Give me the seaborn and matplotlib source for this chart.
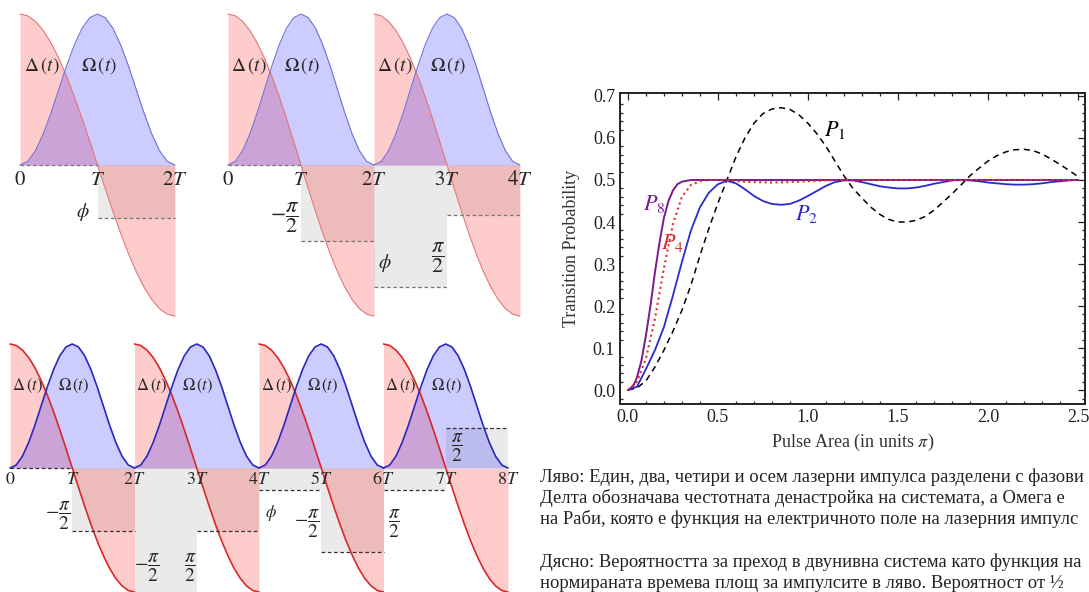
import numpy as np
import matplotlib
matplotlib.use("Agg")
import matplotlib.pyplot as plt
import seaborn as sns
from matplotlib.ticker import MultipleLocator, FormatStrFormatter

# one pulse, time in units of T (0 .. 2T)
pulse_t = [0.0, 0.1, 0.2, 0.3, 0.4, 0.5, 0.6, 0.7, 0.8, 0.9, 1.0,
           1.1, 1.2, 1.3, 1.4, 1.5, 1.6, 1.7, 1.8, 1.9, 2.0]
delta_shape = [1.000, 0.988, 0.951, 0.891, 0.809, 0.707, 0.588, 0.454, 0.309, 0.156, 0.0,
               -0.156, -0.309, -0.454, -0.588, -0.707, -0.809, -0.891, -0.951, -0.988, -1.000]
omega_shape = [0.0, 0.024, 0.095, 0.206, 0.345, 0.5, 0.655, 0.794, 0.905, 0.976, 1.0,
               0.976, 0.905, 0.794, 0.655, 0.5, 0.345, 0.206, 0.095, 0.024, 0.0]

# phase steps (start of each segment of width T, level)
p1_phase_t = [0, 1]
p1_phase_lvl = [0.0, -0.35]
p2_phase_t = [0, 1, 2, 3]
p2_phase_lvl = [0.0, -0.50, -0.81, -0.33]
p3_phase_t = [0, 1, 2, 3, 4, 5, 6, 7]
p3_phase_lvl = [0.0, -0.51, -1.2, -0.51, -0.18, -0.68, -0.18, 0.32]

p1_ticks = ["0", "T", "2T"]
p2_ticks = ["0", "T", "2T", "3T", "4T"]
p3_ticks = ["0", "T", "2T", "3T", "4T", "5T", "6T", "7T", "8T"]

# transition probability curves
p1_x = [0.00, 0.05, 0.10, 0.15, 0.20, 0.25, 0.30, 0.35, 0.40, 0.45, 0.50, 0.55, 0.60, 0.65,
        0.70, 0.75, 0.80, 0.85, 0.90, 0.95, 1.00, 1.05, 1.10, 1.15, 1.20, 1.25, 1.30, 1.35,
        1.40, 1.45, 1.50, 1.55, 1.60, 1.65, 1.70, 1.75, 1.80, 1.85, 1.90, 1.95, 2.00, 2.05,
        2.10, 2.15, 2.20, 2.25, 2.30, 2.35, 2.40, 2.45, 2.50]
p1_y = [0.000, 0.005, 0.022, 0.055, 0.095, 0.140, 0.190, 0.250, 0.320, 0.385, 0.445, 0.500,
        0.555, 0.600, 0.635, 0.658, 0.669, 0.672, 0.668, 0.655, 0.635, 0.610, 0.580, 0.545,
        0.510, 0.480, 0.457, 0.435, 0.418, 0.406, 0.400, 0.400, 0.404, 0.413, 0.428, 0.447,
        0.467, 0.488, 0.510, 0.528, 0.545, 0.558, 0.567, 0.572, 0.573, 0.570, 0.562, 0.550,
        0.537, 0.523, 0.508]
p2_x = p1_x
p2_y = [0.000, 0.008, 0.050, 0.095, 0.150, 0.225, 0.305, 0.380, 0.435, 0.470, 0.490, 0.498,
        0.492, 0.478, 0.462, 0.450, 0.443, 0.441, 0.443, 0.451, 0.462, 0.474, 0.486, 0.495,
        0.499, 0.499, 0.495, 0.490, 0.485, 0.482, 0.480, 0.480, 0.482, 0.486, 0.491, 0.495,
        0.499, 0.500, 0.499, 0.497, 0.494, 0.492, 0.490, 0.489, 0.489, 0.490, 0.492, 0.495,
        0.497, 0.499, 0.500]
p4_x = [0.00, 0.05, 0.10, 0.15, 0.20, 0.25, 0.30, 0.35, 0.40, 0.45, 0.50, 0.55, 0.60, 0.70,
        0.80, 0.90, 1.00, 1.10, 1.20, 2.50]
p4_y = [0.000, 0.020, 0.075, 0.170, 0.290, 0.395, 0.460, 0.488, 0.497, 0.500, 0.500, 0.499,
        0.497, 0.495, 0.494, 0.495, 0.497, 0.499, 0.500, 0.500]
p8_x = [0.000, 0.030, 0.050, 0.075, 0.100, 0.125, 0.150, 0.175, 0.200, 0.225, 0.250, 0.275,
        0.300, 0.350, 2.500]
p8_y = [0.000, 0.010, 0.030, 0.070, 0.130, 0.200, 0.280, 0.350, 0.410, 0.450, 0.475, 0.490,
        0.496, 0.500, 0.500]

# caption, as far as it is visible in the picture
caption = [
    "Ляво: Един, два, четири и осем лазерни импулса разделени с фазови",
    "Делта обозначава честотната денастройка на системата, а Омега е",
    "на Раби, която е функция на електричното поле на лазерния импулс",
    "",
    "Дясно: Вероятността за преход в двунивна система като функция на",
    "нормираната времева площ за импулсите в ляво. Вероятност от ½",
]

sns.set_theme(style="white")
plt.rcParams["font.family"] = ["Liberation Serif", "DejaVu Serif"]
plt.rcParams["mathtext.fontset"] = "stix"

W, H = 1089, 592
fig = plt.figure(figsize=(W / 100, H / 100), dpi=100)


def add_panel(x0, xT, y0, amp, n, ylo=-1.06, yhi=1.06):
    left = x0 - 0.15 * xT
    right = x0 + (n + 0.15) * xT
    top = y0 - yhi * amp
    bottom = y0 - ylo * amp
    ax = fig.add_axes([left / W, 1 - bottom / H, (right - left) / W, (bottom - top) / H])
    ax.set_xlim(-0.15, n + 0.15)
    ax.set_ylim(ylo, yhi)
    ax.axis("off")
    return ax


def draw_panel(ax, n_pulses, phase_t, phase_lvl, ticks, red, blue, lw, fs, tick_y, dash_col):
    ax.bar(phase_t, phase_lvl, width=1, align="edge", color="0.5", alpha=0.16, lw=0, zorder=1)
    ax.hlines(phase_lvl, phase_t, np.array(phase_t) + 1, colors=dash_col,
              linestyles=(0, (3, 2)), lw=0.9, zorder=4)
    for k in range(n_pulses):
        t = np.array(pulse_t) + 2 * k
        ax.fill_between(t, 0, delta_shape, color="red", alpha=0.2, lw=0, zorder=2)
        ax.fill_between(t, 0, omega_shape, color="blue", alpha=0.2, lw=0, zorder=2)
        sns.lineplot(x=t, y=delta_shape, ax=ax, color=red, lw=lw, sort=False, zorder=3)
        sns.lineplot(x=t, y=omega_shape, ax=ax, color=blue, lw=lw, sort=False, zorder=3)
        ax.text(t[0] + 0.28, 0.66, r"$\Delta\,(t)$", fontsize=fs, ha="center", va="center", zorder=5)
        ax.text(t[0] + 1.02, 0.66, r"$\Omega\,(t)$", fontsize=fs, ha="center", va="center", zorder=5)
    for i, lab in enumerate(ticks):
        ax.text(i, tick_y, "$" + lab + "$", fontsize=fs + 1, ha="center", va="center", zorder=5)


def frac(ax, x, y, txt, fs, ha="center"):
    ax.text(x, y, txt, fontsize=fs, ha=ha, va="center", zorder=5)


half = r"$\dfrac{\pi}{2}$"
mhalf = r"$-\dfrac{\pi}{2}$"

# top-left: one pulse
ax1 = add_panel(20, 77.5, 165, 151, 2)
draw_panel(ax1, 1, p1_phase_t, p1_phase_lvl, p1_ticks,
           "#e07878", "#7070d8", 0.8, 14, -0.10, "#777777")
frac(ax1, 0.9, -0.31, r"$\phi$", 14, ha="right")

# top-middle: two pulses
ax2 = add_panel(228, 73, 165, 151, 4)
draw_panel(ax2, 2, p2_phase_t, p2_phase_lvl, p2_ticks,
           "#e07878", "#7070d8", 0.8, 14, -0.10, "#777777")
frac(ax2, 0.97, -0.35, mhalf, 16, ha="right")
frac(ax2, 2.05, -0.65, r"$\phi$", 14, ha="left")
frac(ax2, 2.88, -0.61, half, 16)

# bottom: four pulses
ax3 = add_panel(10, 62.25, 468, 124, 8, ylo=-1.0)
draw_panel(ax3, 4, p3_phase_t, p3_phase_lvl, p3_ticks,
           "#d82828", "#2828c0", 1.2, 12, -0.09, "#333333")
frac(ax3, 0.97, -0.39, mhalf, 14, ha="right")
frac(ax3, 2.2, -0.81, mhalf, 14)
frac(ax3, 2.89, -0.81, half, 14)
frac(ax3, 4.1, -0.36, r"$\phi$", 12, ha="left")
frac(ax3, 4.97, -0.45, mhalf, 14, ha="right")
frac(ax3, 6.18, -0.45, half, 14)
frac(ax3, 7.18, 0.16, half, 14)

# right: transition probability
axr = fig.add_axes([620 / W, 1 - 404 / H, (1085 - 620) / W, (404 - 93) / H])
sns.lineplot(x=p1_x, y=p1_y, ax=axr, color="black", lw=1.1, linestyle=(0, (4, 3)))
sns.lineplot(x=p2_x, y=p2_y, ax=axr, color="#2a2ad0", lw=1.3)
sns.lineplot(x=p8_x, y=p8_y, ax=axr, color="#7a1a8c", lw=1.4)
sns.lineplot(x=p4_x, y=p4_y, ax=axr, color="#d83030", lw=1.5, linestyle=(0, (1, 1.6)))
axr.set_xlim(-0.044, 2.539)
axr.set_ylim(-0.033, 0.707)
axr.xaxis.set_major_locator(MultipleLocator(0.5))
axr.xaxis.set_minor_locator(MultipleLocator(0.1))
axr.yaxis.set_major_locator(MultipleLocator(0.1))
axr.yaxis.set_minor_locator(MultipleLocator(0.02))
axr.xaxis.set_major_formatter(FormatStrFormatter("%.1f"))
axr.yaxis.set_major_formatter(FormatStrFormatter("%.1f"))
axr.tick_params(which="both", direction="in", top=True, right=True, labelsize=13,
                colors="#222222", width=0.9)
axr.tick_params(which="major", length=5)
axr.tick_params(which="minor", length=2.5, bottom=True, left=True)
for sp in axr.spines.values():
    sp.set_linewidth(1.4)
    sp.set_color("#222222")
axr.set_xlabel(r"Pulse Area (in units $\pi$)", fontsize=13, color="#333333", labelpad=4)
axr.set_ylabel("Transition Probability", fontsize=13, color="#333333", labelpad=9)
axr.text(1.15, 0.62, r"$P_1$", fontsize=16, color="black", ha="center", va="center")
axr.text(0.99, 0.42, r"$P_2$", fontsize=16, color="#2a2ad0", ha="center", va="center")
axr.text(0.245, 0.35, r"$P_4$", fontsize=16, color="#d83030", ha="center", va="center")
axr.text(0.145, 0.443, r"$P_8$", fontsize=16, color="#7a1a8c", ha="center", va="center")

line_y = [477, 498, 519, 540, 562, 583]
for y, line in zip(line_y, caption):
    if line:
        fig.text(540 / W, 1 - y / H, line, fontsize=13.4, ha="left", va="center", color="#222222")

fig.savefig("out.png", dpi=100)
